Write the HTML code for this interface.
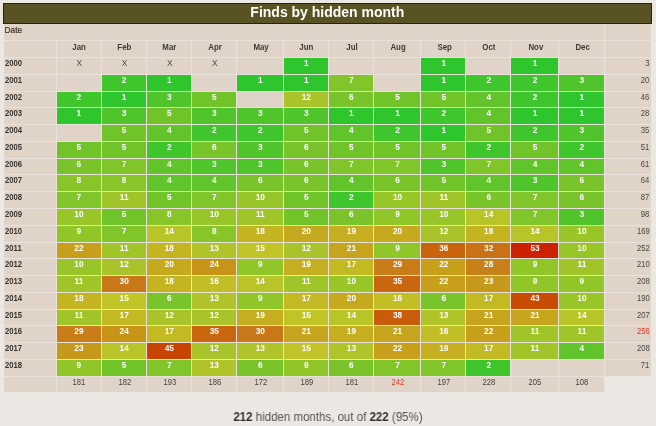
<!DOCTYPE html>
<html><head><meta charset="utf-8"><style>
html,body{margin:0;padding:0;}
body{width:656px;height:426px;overflow:hidden;will-change:transform;background:#ebe7e3;position:relative;font-family:"Liberation Sans",sans-serif;}
#title{position:absolute;left:3px;top:3px;width:646.7px;height:18.5px;background:#595222;border:1px solid #23211a;color:#fff;font-weight:bold;font-size:14px;line-height:17.6px;text-align:center;}
#tbl{position:absolute;left:4px;top:23.5px;width:647px;height:368.7px;background:#e9e2db;}
.c{position:absolute;box-sizing:border-box;background:#e0d4c9;font-size:8.3px;text-align:center;line-height:10.6px;white-space:nowrap;}
.dt{text-align:left;padding-left:0.6px;color:#3a3632;-webkit-text-stroke:0.2px #3a3632;line-height:13.4px;}
.yr span{display:inline-block;transform:scaleX(0.93);transform-origin:0 50%;}
.hd span{display:inline-block;transform:scaleX(0.95);transform-origin:50% 50%;}
.tot span{display:inline-block;transform:scaleX(0.92);transform-origin:50% 50%;}
.tt span{display:inline-block;transform:scaleX(0.92);transform-origin:100% 50%;}
.hd{font-weight:bold;color:#3e3a36;padding-left:1.5px;line-height:12px;}
.yr{font-weight:bold;color:#3a3632;text-align:left;padding-left:0.8px;}
.x{color:#4e4a46;padding-left:1.5px;}
.v{color:#fff;font-weight:bold;padding-left:0.8px;}
.tt{color:#484440;text-align:right;padding-right:1.3px;}
.tot{color:#444040;padding-left:1.5px;}
.red{color:#dc3a26;}
.blank{background:#ebe7e3;}
#foot{position:absolute;left:0;top:410px;width:656px;text-align:center;font-size:12.5px;color:#555;transform:scaleX(0.92);transform-origin:327.5px 0;}
#foot b{color:#333;}
</style></head><body>
<div id="title">Finds by hidden month</div>
<div id="tbl"></div>
<div class="c dt" style="left:4.00px;top:23.50px;width:600.10px;height:16.70px">Date</div>
<div class="c e" style="left:605.10px;top:23.50px;width:45.90px;height:16.70px"></div>
<div class="c hd" style="left:4.00px;top:41.20px;width:51.50px;height:15.80px"></div>
<div class="c hd" style="left:56.50px;top:41.20px;width:44.00px;height:15.80px"><span>Jan</span></div>
<div class="c hd" style="left:101.50px;top:41.20px;width:44.50px;height:15.80px"><span>Feb</span></div>
<div class="c hd" style="left:147.00px;top:41.20px;width:43.90px;height:15.80px"><span>Mar</span></div>
<div class="c hd" style="left:191.90px;top:41.20px;width:44.10px;height:15.80px"><span>Apr</span></div>
<div class="c hd" style="left:237.00px;top:41.20px;width:45.90px;height:15.80px"><span>May</span></div>
<div class="c hd" style="left:283.90px;top:41.20px;width:44.10px;height:15.80px"><span>Jun</span></div>
<div class="c hd" style="left:329.00px;top:41.20px;width:44.00px;height:15.80px"><span>Jul</span></div>
<div class="c hd" style="left:374.00px;top:41.20px;width:46.40px;height:15.80px"><span>Aug</span></div>
<div class="c hd" style="left:421.40px;top:41.20px;width:44.00px;height:15.80px"><span>Sep</span></div>
<div class="c hd" style="left:466.40px;top:41.20px;width:43.90px;height:15.80px"><span>Oct</span></div>
<div class="c hd" style="left:511.30px;top:41.20px;width:46.60px;height:15.80px"><span>Nov</span></div>
<div class="c hd" style="left:558.90px;top:41.20px;width:45.20px;height:15.80px"><span>Dec</span></div>
<div class="c hd" style="left:605.10px;top:41.20px;width:45.90px;height:15.80px"></div>
<div class="c yr" style="left:4.00px;top:58.00px;width:51.50px;height:15.78px"><span>2000</span></div>
<div class="c x" style="left:56.50px;top:58.00px;width:44.00px;height:15.78px">X</div>
<div class="c x" style="left:101.50px;top:58.00px;width:44.50px;height:15.78px">X</div>
<div class="c x" style="left:147.00px;top:58.00px;width:43.90px;height:15.78px">X</div>
<div class="c x" style="left:191.90px;top:58.00px;width:44.10px;height:15.78px">X</div>
<div class="c e" style="left:237.00px;top:58.00px;width:45.90px;height:15.78px"></div>
<div class="c v" style="left:283.90px;top:58.00px;width:44.10px;height:15.78px;background:#2ec62c">1</div>
<div class="c e" style="left:329.00px;top:58.00px;width:44.00px;height:15.78px"></div>
<div class="c e" style="left:374.00px;top:58.00px;width:46.40px;height:15.78px"></div>
<div class="c v" style="left:421.40px;top:58.00px;width:44.00px;height:15.78px;background:#2ec62c">1</div>
<div class="c e" style="left:466.40px;top:58.00px;width:43.90px;height:15.78px"></div>
<div class="c v" style="left:511.30px;top:58.00px;width:46.60px;height:15.78px;background:#2ec62c">1</div>
<div class="c e" style="left:558.90px;top:58.00px;width:45.20px;height:15.78px"></div>
<div class="c tt" style="left:605.10px;top:58.00px;width:45.90px;height:15.78px"><span>3</span></div>
<div class="c yr" style="left:4.00px;top:74.78px;width:51.50px;height:15.78px"><span>2001</span></div>
<div class="c e" style="left:56.50px;top:74.78px;width:44.00px;height:15.78px"></div>
<div class="c v" style="left:101.50px;top:74.78px;width:44.50px;height:15.78px;background:#3ec62c">2</div>
<div class="c v" style="left:147.00px;top:74.78px;width:43.90px;height:15.78px;background:#2ec62c">1</div>
<div class="c e" style="left:191.90px;top:74.78px;width:44.10px;height:15.78px"></div>
<div class="c v" style="left:237.00px;top:74.78px;width:45.90px;height:15.78px;background:#2ec62c">1</div>
<div class="c v" style="left:283.90px;top:74.78px;width:44.10px;height:15.78px;background:#2ec62c">1</div>
<div class="c v" style="left:329.00px;top:74.78px;width:44.00px;height:15.78px;background:#80c529">7</div>
<div class="c e" style="left:374.00px;top:74.78px;width:46.40px;height:15.78px"></div>
<div class="c v" style="left:421.40px;top:74.78px;width:44.00px;height:15.78px;background:#2ec62c">1</div>
<div class="c v" style="left:466.40px;top:74.78px;width:43.90px;height:15.78px;background:#3ec62c">2</div>
<div class="c v" style="left:511.30px;top:74.78px;width:46.60px;height:15.78px;background:#3ec62c">2</div>
<div class="c v" style="left:558.90px;top:74.78px;width:45.20px;height:15.78px;background:#4fc52b">3</div>
<div class="c tt" style="left:605.10px;top:74.78px;width:45.90px;height:15.78px"><span>20</span></div>
<div class="c yr" style="left:4.00px;top:91.56px;width:51.50px;height:15.78px"><span>2002</span></div>
<div class="c v" style="left:56.50px;top:91.56px;width:44.00px;height:15.78px;background:#3ec62c">2</div>
<div class="c v" style="left:101.50px;top:91.56px;width:44.50px;height:15.78px;background:#2ec62c">1</div>
<div class="c v" style="left:147.00px;top:91.56px;width:43.90px;height:15.78px;background:#4fc52b">3</div>
<div class="c v" style="left:191.90px;top:91.56px;width:44.10px;height:15.78px;background:#70c42a">5</div>
<div class="c e" style="left:237.00px;top:91.56px;width:45.90px;height:15.78px"></div>
<div class="c v" style="left:283.90px;top:91.56px;width:44.10px;height:15.78px;background:#a8c42a">12</div>
<div class="c v" style="left:329.00px;top:91.56px;width:44.00px;height:15.78px;background:#78c42a">6</div>
<div class="c v" style="left:374.00px;top:91.56px;width:46.40px;height:15.78px;background:#70c42a">5</div>
<div class="c v" style="left:421.40px;top:91.56px;width:44.00px;height:15.78px;background:#70c42a">5</div>
<div class="c v" style="left:466.40px;top:91.56px;width:43.90px;height:15.78px;background:#60c42a">4</div>
<div class="c v" style="left:511.30px;top:91.56px;width:46.60px;height:15.78px;background:#3ec62c">2</div>
<div class="c v" style="left:558.90px;top:91.56px;width:45.20px;height:15.78px;background:#2ec62c">1</div>
<div class="c tt" style="left:605.10px;top:91.56px;width:45.90px;height:15.78px"><span>46</span></div>
<div class="c yr" style="left:4.00px;top:108.34px;width:51.50px;height:15.78px"><span>2003</span></div>
<div class="c v" style="left:56.50px;top:108.34px;width:44.00px;height:15.78px;background:#2ec62c">1</div>
<div class="c v" style="left:101.50px;top:108.34px;width:44.50px;height:15.78px;background:#4fc52b">3</div>
<div class="c v" style="left:147.00px;top:108.34px;width:43.90px;height:15.78px;background:#70c42a">5</div>
<div class="c v" style="left:191.90px;top:108.34px;width:44.10px;height:15.78px;background:#4fc52b">3</div>
<div class="c v" style="left:237.00px;top:108.34px;width:45.90px;height:15.78px;background:#4fc52b">3</div>
<div class="c v" style="left:283.90px;top:108.34px;width:44.10px;height:15.78px;background:#4fc52b">3</div>
<div class="c v" style="left:329.00px;top:108.34px;width:44.00px;height:15.78px;background:#2ec62c">1</div>
<div class="c v" style="left:374.00px;top:108.34px;width:46.40px;height:15.78px;background:#2ec62c">1</div>
<div class="c v" style="left:421.40px;top:108.34px;width:44.00px;height:15.78px;background:#3ec62c">2</div>
<div class="c v" style="left:466.40px;top:108.34px;width:43.90px;height:15.78px;background:#60c42a">4</div>
<div class="c v" style="left:511.30px;top:108.34px;width:46.60px;height:15.78px;background:#2ec62c">1</div>
<div class="c v" style="left:558.90px;top:108.34px;width:45.20px;height:15.78px;background:#2ec62c">1</div>
<div class="c tt" style="left:605.10px;top:108.34px;width:45.90px;height:15.78px"><span>28</span></div>
<div class="c yr" style="left:4.00px;top:125.12px;width:51.50px;height:15.78px"><span>2004</span></div>
<div class="c e" style="left:56.50px;top:125.12px;width:44.00px;height:15.78px"></div>
<div class="c v" style="left:101.50px;top:125.12px;width:44.50px;height:15.78px;background:#70c42a">5</div>
<div class="c v" style="left:147.00px;top:125.12px;width:43.90px;height:15.78px;background:#60c42a">4</div>
<div class="c v" style="left:191.90px;top:125.12px;width:44.10px;height:15.78px;background:#3ec62c">2</div>
<div class="c v" style="left:237.00px;top:125.12px;width:45.90px;height:15.78px;background:#3ec62c">2</div>
<div class="c v" style="left:283.90px;top:125.12px;width:44.10px;height:15.78px;background:#70c42a">5</div>
<div class="c v" style="left:329.00px;top:125.12px;width:44.00px;height:15.78px;background:#60c42a">4</div>
<div class="c v" style="left:374.00px;top:125.12px;width:46.40px;height:15.78px;background:#3ec62c">2</div>
<div class="c v" style="left:421.40px;top:125.12px;width:44.00px;height:15.78px;background:#2ec62c">1</div>
<div class="c v" style="left:466.40px;top:125.12px;width:43.90px;height:15.78px;background:#70c42a">5</div>
<div class="c v" style="left:511.30px;top:125.12px;width:46.60px;height:15.78px;background:#3ec62c">2</div>
<div class="c v" style="left:558.90px;top:125.12px;width:45.20px;height:15.78px;background:#4fc52b">3</div>
<div class="c tt" style="left:605.10px;top:125.12px;width:45.90px;height:15.78px"><span>35</span></div>
<div class="c yr" style="left:4.00px;top:141.90px;width:51.50px;height:15.78px"><span>2005</span></div>
<div class="c v" style="left:56.50px;top:141.90px;width:44.00px;height:15.78px;background:#70c42a">5</div>
<div class="c v" style="left:101.50px;top:141.90px;width:44.50px;height:15.78px;background:#70c42a">5</div>
<div class="c v" style="left:147.00px;top:141.90px;width:43.90px;height:15.78px;background:#3ec62c">2</div>
<div class="c v" style="left:191.90px;top:141.90px;width:44.10px;height:15.78px;background:#78c42a">6</div>
<div class="c v" style="left:237.00px;top:141.90px;width:45.90px;height:15.78px;background:#4fc52b">3</div>
<div class="c v" style="left:283.90px;top:141.90px;width:44.10px;height:15.78px;background:#78c42a">6</div>
<div class="c v" style="left:329.00px;top:141.90px;width:44.00px;height:15.78px;background:#70c42a">5</div>
<div class="c v" style="left:374.00px;top:141.90px;width:46.40px;height:15.78px;background:#70c42a">5</div>
<div class="c v" style="left:421.40px;top:141.90px;width:44.00px;height:15.78px;background:#70c42a">5</div>
<div class="c v" style="left:466.40px;top:141.90px;width:43.90px;height:15.78px;background:#3ec62c">2</div>
<div class="c v" style="left:511.30px;top:141.90px;width:46.60px;height:15.78px;background:#70c42a">5</div>
<div class="c v" style="left:558.90px;top:141.90px;width:45.20px;height:15.78px;background:#3ec62c">2</div>
<div class="c tt" style="left:605.10px;top:141.90px;width:45.90px;height:15.78px"><span>51</span></div>
<div class="c yr" style="left:4.00px;top:158.68px;width:51.50px;height:15.78px"><span>2006</span></div>
<div class="c v" style="left:56.50px;top:158.68px;width:44.00px;height:15.78px;background:#78c42a">6</div>
<div class="c v" style="left:101.50px;top:158.68px;width:44.50px;height:15.78px;background:#80c529">7</div>
<div class="c v" style="left:147.00px;top:158.68px;width:43.90px;height:15.78px;background:#60c42a">4</div>
<div class="c v" style="left:191.90px;top:158.68px;width:44.10px;height:15.78px;background:#4fc52b">3</div>
<div class="c v" style="left:237.00px;top:158.68px;width:45.90px;height:15.78px;background:#4fc52b">3</div>
<div class="c v" style="left:283.90px;top:158.68px;width:44.10px;height:15.78px;background:#78c42a">6</div>
<div class="c v" style="left:329.00px;top:158.68px;width:44.00px;height:15.78px;background:#80c529">7</div>
<div class="c v" style="left:374.00px;top:158.68px;width:46.40px;height:15.78px;background:#80c529">7</div>
<div class="c v" style="left:421.40px;top:158.68px;width:44.00px;height:15.78px;background:#4fc52b">3</div>
<div class="c v" style="left:466.40px;top:158.68px;width:43.90px;height:15.78px;background:#80c529">7</div>
<div class="c v" style="left:511.30px;top:158.68px;width:46.60px;height:15.78px;background:#60c42a">4</div>
<div class="c v" style="left:558.90px;top:158.68px;width:45.20px;height:15.78px;background:#60c42a">4</div>
<div class="c tt" style="left:605.10px;top:158.68px;width:45.90px;height:15.78px"><span>61</span></div>
<div class="c yr" style="left:4.00px;top:175.46px;width:51.50px;height:15.78px"><span>2007</span></div>
<div class="c v" style="left:56.50px;top:175.46px;width:44.00px;height:15.78px;background:#88c529">8</div>
<div class="c v" style="left:101.50px;top:175.46px;width:44.50px;height:15.78px;background:#88c529">8</div>
<div class="c v" style="left:147.00px;top:175.46px;width:43.90px;height:15.78px;background:#60c42a">4</div>
<div class="c v" style="left:191.90px;top:175.46px;width:44.10px;height:15.78px;background:#60c42a">4</div>
<div class="c v" style="left:237.00px;top:175.46px;width:45.90px;height:15.78px;background:#78c42a">6</div>
<div class="c v" style="left:283.90px;top:175.46px;width:44.10px;height:15.78px;background:#78c42a">6</div>
<div class="c v" style="left:329.00px;top:175.46px;width:44.00px;height:15.78px;background:#60c42a">4</div>
<div class="c v" style="left:374.00px;top:175.46px;width:46.40px;height:15.78px;background:#78c42a">6</div>
<div class="c v" style="left:421.40px;top:175.46px;width:44.00px;height:15.78px;background:#70c42a">5</div>
<div class="c v" style="left:466.40px;top:175.46px;width:43.90px;height:15.78px;background:#60c42a">4</div>
<div class="c v" style="left:511.30px;top:175.46px;width:46.60px;height:15.78px;background:#4fc52b">3</div>
<div class="c v" style="left:558.90px;top:175.46px;width:45.20px;height:15.78px;background:#78c42a">6</div>
<div class="c tt" style="left:605.10px;top:175.46px;width:45.90px;height:15.78px"><span>64</span></div>
<div class="c yr" style="left:4.00px;top:192.24px;width:51.50px;height:15.78px"><span>2008</span></div>
<div class="c v" style="left:56.50px;top:192.24px;width:44.00px;height:15.78px;background:#80c529">7</div>
<div class="c v" style="left:101.50px;top:192.24px;width:44.50px;height:15.78px;background:#a0c529">11</div>
<div class="c v" style="left:147.00px;top:192.24px;width:43.90px;height:15.78px;background:#70c42a">5</div>
<div class="c v" style="left:191.90px;top:192.24px;width:44.10px;height:15.78px;background:#80c529">7</div>
<div class="c v" style="left:237.00px;top:192.24px;width:45.90px;height:15.78px;background:#98c628">10</div>
<div class="c v" style="left:283.90px;top:192.24px;width:44.10px;height:15.78px;background:#70c42a">5</div>
<div class="c v" style="left:329.00px;top:192.24px;width:44.00px;height:15.78px;background:#3ec62c">2</div>
<div class="c v" style="left:374.00px;top:192.24px;width:46.40px;height:15.78px;background:#98c628">10</div>
<div class="c v" style="left:421.40px;top:192.24px;width:44.00px;height:15.78px;background:#a0c529">11</div>
<div class="c v" style="left:466.40px;top:192.24px;width:43.90px;height:15.78px;background:#78c42a">6</div>
<div class="c v" style="left:511.30px;top:192.24px;width:46.60px;height:15.78px;background:#80c529">7</div>
<div class="c v" style="left:558.90px;top:192.24px;width:45.20px;height:15.78px;background:#78c42a">6</div>
<div class="c tt" style="left:605.10px;top:192.24px;width:45.90px;height:15.78px"><span>87</span></div>
<div class="c yr" style="left:4.00px;top:209.02px;width:51.50px;height:15.78px"><span>2009</span></div>
<div class="c v" style="left:56.50px;top:209.02px;width:44.00px;height:15.78px;background:#98c628">10</div>
<div class="c v" style="left:101.50px;top:209.02px;width:44.50px;height:15.78px;background:#70c42a">5</div>
<div class="c v" style="left:147.00px;top:209.02px;width:43.90px;height:15.78px;background:#88c529">8</div>
<div class="c v" style="left:191.90px;top:209.02px;width:44.10px;height:15.78px;background:#98c628">10</div>
<div class="c v" style="left:237.00px;top:209.02px;width:45.90px;height:15.78px;background:#a0c529">11</div>
<div class="c v" style="left:283.90px;top:209.02px;width:44.10px;height:15.78px;background:#70c42a">5</div>
<div class="c v" style="left:329.00px;top:209.02px;width:44.00px;height:15.78px;background:#78c42a">6</div>
<div class="c v" style="left:374.00px;top:209.02px;width:46.40px;height:15.78px;background:#90c628">9</div>
<div class="c v" style="left:421.40px;top:209.02px;width:44.00px;height:15.78px;background:#98c628">10</div>
<div class="c v" style="left:466.40px;top:209.02px;width:43.90px;height:15.78px;background:#b8c427">14</div>
<div class="c v" style="left:511.30px;top:209.02px;width:46.60px;height:15.78px;background:#80c529">7</div>
<div class="c v" style="left:558.90px;top:209.02px;width:45.20px;height:15.78px;background:#4fc52b">3</div>
<div class="c tt" style="left:605.10px;top:209.02px;width:45.90px;height:15.78px"><span>98</span></div>
<div class="c yr" style="left:4.00px;top:225.80px;width:51.50px;height:15.78px"><span>2010</span></div>
<div class="c v" style="left:56.50px;top:225.80px;width:44.00px;height:15.78px;background:#90c628">9</div>
<div class="c v" style="left:101.50px;top:225.80px;width:44.50px;height:15.78px;background:#80c529">7</div>
<div class="c v" style="left:147.00px;top:225.80px;width:43.90px;height:15.78px;background:#b8c427">14</div>
<div class="c v" style="left:191.90px;top:225.80px;width:44.10px;height:15.78px;background:#88c529">8</div>
<div class="c v" style="left:237.00px;top:225.80px;width:45.90px;height:15.78px;background:#c4b422">18</div>
<div class="c v" style="left:283.90px;top:225.80px;width:44.10px;height:15.78px;background:#c5a91f">20</div>
<div class="c v" style="left:329.00px;top:225.80px;width:44.00px;height:15.78px;background:#c5af20">19</div>
<div class="c v" style="left:374.00px;top:225.80px;width:46.40px;height:15.78px;background:#c5a91f">20</div>
<div class="c v" style="left:421.40px;top:225.80px;width:44.00px;height:15.78px;background:#a8c42a">12</div>
<div class="c v" style="left:466.40px;top:225.80px;width:43.90px;height:15.78px;background:#c4b422">18</div>
<div class="c v" style="left:511.30px;top:225.80px;width:46.60px;height:15.78px;background:#b8c427">14</div>
<div class="c v" style="left:558.90px;top:225.80px;width:45.20px;height:15.78px;background:#98c628">10</div>
<div class="c tt" style="left:605.10px;top:225.80px;width:45.90px;height:15.78px"><span>169</span></div>
<div class="c yr" style="left:4.00px;top:242.58px;width:51.50px;height:15.78px"><span>2011</span></div>
<div class="c v" style="left:56.50px;top:242.58px;width:44.00px;height:15.78px;background:#c79f1b">22</div>
<div class="c v" style="left:101.50px;top:242.58px;width:44.50px;height:15.78px;background:#a0c529">11</div>
<div class="c v" style="left:147.00px;top:242.58px;width:43.90px;height:15.78px;background:#c4b422">18</div>
<div class="c v" style="left:191.90px;top:242.58px;width:44.10px;height:15.78px;background:#b0c429">13</div>
<div class="c v" style="left:237.00px;top:242.58px;width:45.90px;height:15.78px;background:#c0c426">15</div>
<div class="c v" style="left:283.90px;top:242.58px;width:44.10px;height:15.78px;background:#a8c42a">12</div>
<div class="c v" style="left:329.00px;top:242.58px;width:44.00px;height:15.78px;background:#c6a41d">21</div>
<div class="c v" style="left:374.00px;top:242.58px;width:46.40px;height:15.78px;background:#90c628">9</div>
<div class="c v" style="left:421.40px;top:242.58px;width:44.00px;height:15.78px;background:#c8630e">36</div>
<div class="c v" style="left:466.40px;top:242.58px;width:43.90px;height:15.78px;background:#c87115">32</div>
<div class="c v" style="left:511.30px;top:242.58px;width:46.60px;height:15.78px;background:#cc2200">53</div>
<div class="c v" style="left:558.90px;top:242.58px;width:45.20px;height:15.78px;background:#98c628">10</div>
<div class="c tt" style="left:605.10px;top:242.58px;width:45.90px;height:15.78px"><span>252</span></div>
<div class="c yr" style="left:4.00px;top:259.36px;width:51.50px;height:15.78px"><span>2012</span></div>
<div class="c v" style="left:56.50px;top:259.36px;width:44.00px;height:15.78px;background:#98c628">10</div>
<div class="c v" style="left:101.50px;top:259.36px;width:44.50px;height:15.78px;background:#a8c42a">12</div>
<div class="c v" style="left:147.00px;top:259.36px;width:43.90px;height:15.78px;background:#c5a91f">20</div>
<div class="c v" style="left:191.90px;top:259.36px;width:44.10px;height:15.78px;background:#c89418">24</div>
<div class="c v" style="left:237.00px;top:259.36px;width:45.90px;height:15.78px;background:#90c628">9</div>
<div class="c v" style="left:283.90px;top:259.36px;width:44.10px;height:15.78px;background:#c5af20">19</div>
<div class="c v" style="left:329.00px;top:259.36px;width:44.00px;height:15.78px;background:#c3b923">17</div>
<div class="c v" style="left:374.00px;top:259.36px;width:46.40px;height:15.78px;background:#c87d18">29</div>
<div class="c v" style="left:421.40px;top:259.36px;width:44.00px;height:15.78px;background:#c79f1b">22</div>
<div class="c v" style="left:466.40px;top:259.36px;width:43.90px;height:15.78px;background:#c88118">28</div>
<div class="c v" style="left:511.30px;top:259.36px;width:46.60px;height:15.78px;background:#90c628">9</div>
<div class="c v" style="left:558.90px;top:259.36px;width:45.20px;height:15.78px;background:#a0c529">11</div>
<div class="c tt" style="left:605.10px;top:259.36px;width:45.90px;height:15.78px"><span>210</span></div>
<div class="c yr" style="left:4.00px;top:276.14px;width:51.50px;height:15.78px"><span>2013</span></div>
<div class="c v" style="left:56.50px;top:276.14px;width:44.00px;height:15.78px;background:#a0c529">11</div>
<div class="c v" style="left:101.50px;top:276.14px;width:44.50px;height:15.78px;background:#c87818">30</div>
<div class="c v" style="left:147.00px;top:276.14px;width:43.90px;height:15.78px;background:#c4b422">18</div>
<div class="c v" style="left:191.90px;top:276.14px;width:44.10px;height:15.78px;background:#c1bf25">16</div>
<div class="c v" style="left:237.00px;top:276.14px;width:45.90px;height:15.78px;background:#b8c427">14</div>
<div class="c v" style="left:283.90px;top:276.14px;width:44.10px;height:15.78px;background:#a0c529">11</div>
<div class="c v" style="left:329.00px;top:276.14px;width:44.00px;height:15.78px;background:#98c628">10</div>
<div class="c v" style="left:374.00px;top:276.14px;width:46.40px;height:15.78px;background:#c86710">35</div>
<div class="c v" style="left:421.40px;top:276.14px;width:44.00px;height:15.78px;background:#c79f1b">22</div>
<div class="c v" style="left:466.40px;top:276.14px;width:43.90px;height:15.78px;background:#c7991a">23</div>
<div class="c v" style="left:511.30px;top:276.14px;width:46.60px;height:15.78px;background:#90c628">9</div>
<div class="c v" style="left:558.90px;top:276.14px;width:45.20px;height:15.78px;background:#90c628">9</div>
<div class="c tt" style="left:605.10px;top:276.14px;width:45.90px;height:15.78px"><span>208</span></div>
<div class="c yr" style="left:4.00px;top:292.92px;width:51.50px;height:15.78px"><span>2014</span></div>
<div class="c v" style="left:56.50px;top:292.92px;width:44.00px;height:15.78px;background:#c4b422">18</div>
<div class="c v" style="left:101.50px;top:292.92px;width:44.50px;height:15.78px;background:#c0c426">15</div>
<div class="c v" style="left:147.00px;top:292.92px;width:43.90px;height:15.78px;background:#78c42a">6</div>
<div class="c v" style="left:191.90px;top:292.92px;width:44.10px;height:15.78px;background:#b0c429">13</div>
<div class="c v" style="left:237.00px;top:292.92px;width:45.90px;height:15.78px;background:#90c628">9</div>
<div class="c v" style="left:283.90px;top:292.92px;width:44.10px;height:15.78px;background:#c3b923">17</div>
<div class="c v" style="left:329.00px;top:292.92px;width:44.00px;height:15.78px;background:#c5a91f">20</div>
<div class="c v" style="left:374.00px;top:292.92px;width:46.40px;height:15.78px;background:#c1bf25">16</div>
<div class="c v" style="left:421.40px;top:292.92px;width:44.00px;height:15.78px;background:#78c42a">6</div>
<div class="c v" style="left:466.40px;top:292.92px;width:43.90px;height:15.78px;background:#c3b923">17</div>
<div class="c v" style="left:511.30px;top:292.92px;width:46.60px;height:15.78px;background:#c84b03">43</div>
<div class="c v" style="left:558.90px;top:292.92px;width:45.20px;height:15.78px;background:#98c628">10</div>
<div class="c tt" style="left:605.10px;top:292.92px;width:45.90px;height:15.78px"><span>190</span></div>
<div class="c yr" style="left:4.00px;top:309.70px;width:51.50px;height:15.78px"><span>2015</span></div>
<div class="c v" style="left:56.50px;top:309.70px;width:44.00px;height:15.78px;background:#a0c529">11</div>
<div class="c v" style="left:101.50px;top:309.70px;width:44.50px;height:15.78px;background:#c3b923">17</div>
<div class="c v" style="left:147.00px;top:309.70px;width:43.90px;height:15.78px;background:#a8c42a">12</div>
<div class="c v" style="left:191.90px;top:309.70px;width:44.10px;height:15.78px;background:#a8c42a">12</div>
<div class="c v" style="left:237.00px;top:309.70px;width:45.90px;height:15.78px;background:#c5af20">19</div>
<div class="c v" style="left:283.90px;top:309.70px;width:44.10px;height:15.78px;background:#c0c426">15</div>
<div class="c v" style="left:329.00px;top:309.70px;width:44.00px;height:15.78px;background:#b8c427">14</div>
<div class="c v" style="left:374.00px;top:309.70px;width:46.40px;height:15.78px;background:#c85c0b">38</div>
<div class="c v" style="left:421.40px;top:309.70px;width:44.00px;height:15.78px;background:#b0c429">13</div>
<div class="c v" style="left:466.40px;top:309.70px;width:43.90px;height:15.78px;background:#c6a41d">21</div>
<div class="c v" style="left:511.30px;top:309.70px;width:46.60px;height:15.78px;background:#c6a41d">21</div>
<div class="c v" style="left:558.90px;top:309.70px;width:45.20px;height:15.78px;background:#b8c427">14</div>
<div class="c tt" style="left:605.10px;top:309.70px;width:45.90px;height:15.78px"><span>207</span></div>
<div class="c yr" style="left:4.00px;top:326.48px;width:51.50px;height:15.78px"><span>2016</span></div>
<div class="c v" style="left:56.50px;top:326.48px;width:44.00px;height:15.78px;background:#c87d18">29</div>
<div class="c v" style="left:101.50px;top:326.48px;width:44.50px;height:15.78px;background:#c89418">24</div>
<div class="c v" style="left:147.00px;top:326.48px;width:43.90px;height:15.78px;background:#c3b923">17</div>
<div class="c v" style="left:191.90px;top:326.48px;width:44.10px;height:15.78px;background:#c86710">35</div>
<div class="c v" style="left:237.00px;top:326.48px;width:45.90px;height:15.78px;background:#c87818">30</div>
<div class="c v" style="left:283.90px;top:326.48px;width:44.10px;height:15.78px;background:#c6a41d">21</div>
<div class="c v" style="left:329.00px;top:326.48px;width:44.00px;height:15.78px;background:#c5af20">19</div>
<div class="c v" style="left:374.00px;top:326.48px;width:46.40px;height:15.78px;background:#c6a41d">21</div>
<div class="c v" style="left:421.40px;top:326.48px;width:44.00px;height:15.78px;background:#c1bf25">16</div>
<div class="c v" style="left:466.40px;top:326.48px;width:43.90px;height:15.78px;background:#c79f1b">22</div>
<div class="c v" style="left:511.30px;top:326.48px;width:46.60px;height:15.78px;background:#a0c529">11</div>
<div class="c v" style="left:558.90px;top:326.48px;width:45.20px;height:15.78px;background:#a0c529">11</div>
<div class="c tt red" style="left:605.10px;top:326.48px;width:45.90px;height:15.78px"><span>256</span></div>
<div class="c yr" style="left:4.00px;top:343.26px;width:51.50px;height:15.78px"><span>2017</span></div>
<div class="c v" style="left:56.50px;top:343.26px;width:44.00px;height:15.78px;background:#c7991a">23</div>
<div class="c v" style="left:101.50px;top:343.26px;width:44.50px;height:15.78px;background:#b8c427">14</div>
<div class="c v" style="left:147.00px;top:343.26px;width:43.90px;height:15.78px;background:#c84400">45</div>
<div class="c v" style="left:191.90px;top:343.26px;width:44.10px;height:15.78px;background:#a8c42a">12</div>
<div class="c v" style="left:237.00px;top:343.26px;width:45.90px;height:15.78px;background:#b0c429">13</div>
<div class="c v" style="left:283.90px;top:343.26px;width:44.10px;height:15.78px;background:#c0c426">15</div>
<div class="c v" style="left:329.00px;top:343.26px;width:44.00px;height:15.78px;background:#b0c429">13</div>
<div class="c v" style="left:374.00px;top:343.26px;width:46.40px;height:15.78px;background:#c79f1b">22</div>
<div class="c v" style="left:421.40px;top:343.26px;width:44.00px;height:15.78px;background:#c5af20">19</div>
<div class="c v" style="left:466.40px;top:343.26px;width:43.90px;height:15.78px;background:#c3b923">17</div>
<div class="c v" style="left:511.30px;top:343.26px;width:46.60px;height:15.78px;background:#a0c529">11</div>
<div class="c v" style="left:558.90px;top:343.26px;width:45.20px;height:15.78px;background:#60c42a">4</div>
<div class="c tt" style="left:605.10px;top:343.26px;width:45.90px;height:15.78px"><span>208</span></div>
<div class="c yr" style="left:4.00px;top:360.04px;width:51.50px;height:15.78px"><span>2018</span></div>
<div class="c v" style="left:56.50px;top:360.04px;width:44.00px;height:15.78px;background:#90c628">9</div>
<div class="c v" style="left:101.50px;top:360.04px;width:44.50px;height:15.78px;background:#70c42a">5</div>
<div class="c v" style="left:147.00px;top:360.04px;width:43.90px;height:15.78px;background:#80c529">7</div>
<div class="c v" style="left:191.90px;top:360.04px;width:44.10px;height:15.78px;background:#b0c429">13</div>
<div class="c v" style="left:237.00px;top:360.04px;width:45.90px;height:15.78px;background:#78c42a">6</div>
<div class="c v" style="left:283.90px;top:360.04px;width:44.10px;height:15.78px;background:#90c628">9</div>
<div class="c v" style="left:329.00px;top:360.04px;width:44.00px;height:15.78px;background:#78c42a">6</div>
<div class="c v" style="left:374.00px;top:360.04px;width:46.40px;height:15.78px;background:#80c529">7</div>
<div class="c v" style="left:421.40px;top:360.04px;width:44.00px;height:15.78px;background:#80c529">7</div>
<div class="c v" style="left:466.40px;top:360.04px;width:43.90px;height:15.78px;background:#3ec62c">2</div>
<div class="c e" style="left:511.30px;top:360.04px;width:46.60px;height:15.78px"></div>
<div class="c e" style="left:558.90px;top:360.04px;width:45.20px;height:15.78px"></div>
<div class="c tt" style="left:605.10px;top:360.04px;width:45.90px;height:15.78px"><span>71</span></div>
<div class="c e" style="left:4.00px;top:376.82px;width:51.50px;height:14.88px"></div>
<div class="c tot" style="left:56.50px;top:376.82px;width:44.00px;height:14.88px"><span>181</span></div>
<div class="c tot" style="left:101.50px;top:376.82px;width:44.50px;height:14.88px"><span>182</span></div>
<div class="c tot" style="left:147.00px;top:376.82px;width:43.90px;height:14.88px"><span>193</span></div>
<div class="c tot" style="left:191.90px;top:376.82px;width:44.10px;height:14.88px"><span>186</span></div>
<div class="c tot" style="left:237.00px;top:376.82px;width:45.90px;height:14.88px"><span>172</span></div>
<div class="c tot" style="left:283.90px;top:376.82px;width:44.10px;height:14.88px"><span>189</span></div>
<div class="c tot" style="left:329.00px;top:376.82px;width:44.00px;height:14.88px"><span>181</span></div>
<div class="c tot red" style="left:374.00px;top:376.82px;width:46.40px;height:14.88px"><span>242</span></div>
<div class="c tot" style="left:421.40px;top:376.82px;width:44.00px;height:14.88px"><span>197</span></div>
<div class="c tot" style="left:466.40px;top:376.82px;width:43.90px;height:14.88px"><span>228</span></div>
<div class="c tot" style="left:511.30px;top:376.82px;width:46.60px;height:14.88px"><span>205</span></div>
<div class="c tot" style="left:558.90px;top:376.82px;width:45.20px;height:14.88px"><span>108</span></div>
<div class="c blank" style="left:605.10px;top:376.82px;width:45.90px;height:15.38px"></div>
<div id="foot"><b>212</b> hidden months, out of <b>222</b> (95%)</div>
</body></html>
